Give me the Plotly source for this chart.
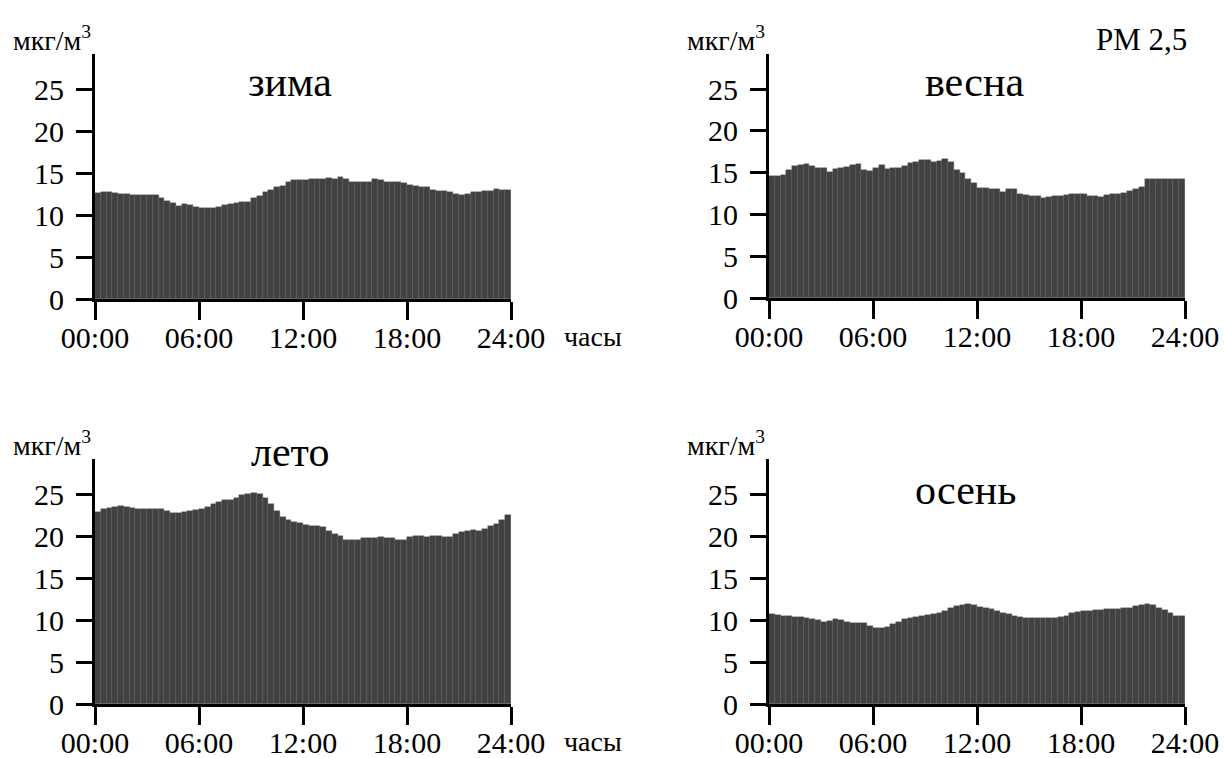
import numpy as np
import plotly.graph_objects as go

# 20-minute intervals over 24 hours
hours = np.arange(72) / 3.0
tick_vals = [0, 6, 12, 18, 24]
tick_text = ["00:00", "06:00", "12:00", "18:00", "24:00"]
y_ticks = [0, 5, 10, 15, 20, 25]

zima = [12.6, 12.7, 12.8, 12.6, 12.5, 12.5, 12.4, 12.4, 12.4, 12.4, 12.4, 12.0,
        11.7, 11.4, 11.1, 11.3, 11.2, 11.0, 10.9, 10.8, 10.8, 11.0, 11.2, 11.3,
        11.5, 11.6, 11.6, 12.0, 12.3, 12.7, 13.0, 13.3, 13.5, 14.0, 14.2, 14.2,
        14.2, 14.3, 14.3, 14.3, 14.4, 14.3, 14.5, 14.3, 14.0, 13.9, 13.9, 14.0,
        14.3, 14.2, 14.0, 13.9, 13.9, 13.8, 13.6, 13.5, 13.4, 13.3, 13.0, 12.9,
        12.9, 12.8, 12.5, 12.4, 12.5, 12.8, 12.8, 12.9, 12.9, 13.1, 13.0, 13.0]

vesna = [14.6, 14.6, 14.7, 15.3, 15.8, 15.9, 16.0, 15.8, 15.5, 15.6, 15.1, 15.4,
         15.6, 15.7, 15.9, 16.0, 15.3, 15.2, 15.5, 15.9, 15.4, 15.5, 15.6, 15.8,
         16.2, 16.3, 16.5, 16.5, 16.3, 16.4, 16.6, 16.3, 15.3, 14.9, 14.3, 13.8,
         13.2, 13.2, 13.0, 13.0, 12.7, 13.0, 13.0, 12.5, 12.3, 12.2, 12.2, 12.0,
         12.1, 12.2, 12.2, 12.3, 12.4, 12.5, 12.5, 12.2, 12.2, 12.1, 12.3, 12.5,
         12.5, 12.6, 12.8, 13.0, 13.3, 14.2, 14.2, 14.2, 14.2, 14.2, 14.2, 14.2]

leto = [22.9, 23.2, 23.4, 23.5, 23.6, 23.5, 23.4, 23.3, 23.2, 23.3, 23.2, 23.3,
        23.0, 22.8, 22.8, 22.9, 23.0, 23.1, 23.3, 23.5, 23.8, 24.1, 24.3, 24.3,
        24.5, 24.9, 25.0, 25.1, 25.0, 24.6, 23.8, 23.0, 22.3, 21.9, 21.7, 21.6,
        21.3, 21.2, 21.2, 21.1, 20.6, 20.3, 20.0, 19.6, 19.5, 19.6, 19.8, 19.8,
        19.8, 19.9, 19.8, 19.8, 19.5, 19.6, 19.9, 20.0, 20.0, 19.9, 20.0, 20.0,
        19.9, 19.9, 20.3, 20.5, 20.6, 20.7, 20.6, 20.8, 21.2, 21.5, 21.9, 22.5]

osen = [10.7, 10.6, 10.5, 10.5, 10.4, 10.4, 10.3, 10.1, 10.0, 9.8, 9.9, 10.1,
        10.0, 9.8, 9.7, 9.7, 9.6, 9.3, 9.1, 9.0, 9.2, 9.5, 9.8, 10.1,
        10.2, 10.4, 10.5, 10.6, 10.7, 10.9, 11.1, 11.5, 11.7, 11.8, 11.9, 11.8,
        11.6, 11.5, 11.3, 11.1, 10.9, 10.7, 10.5, 10.4, 10.3, 10.3, 10.3, 10.3,
        10.3, 10.3, 10.4, 10.5, 10.8, 11.0, 11.1, 11.1, 11.2, 11.2, 11.3, 11.3,
        11.3, 11.4, 11.5, 11.7, 11.8, 11.9, 11.8, 11.5, 11.2, 10.8, 10.5, 10.5]

seasons = ["зима", "весна", "лето", "осень"]
series = [zima, vesna, leto, osen]

W, H = 1224, 758
FONT = "Liberation Serif"
BAR = "#414141"


def fx(px):
    return px / W


def fy(py):
    return 1 - py / H


# panel geometry in window pixels: (x0, x1, y_bottom, y_top)
panels = [
    (95, 511, 299, 54),
    (769, 1185, 298, 54),
    (95, 511, 704, 459),
    (769, 1185, 704, 459),
]
# season title centres in window pixels
title_pos = [(290, 82), (975, 82), (290, 452), (965, 490)]

fig = go.Figure()
annotations = []
for i, (name, vals) in enumerate(zip(seasons, series)):
    x0, x1, yb, yt = panels[i]
    n = "" if i == 0 else str(i + 1)
    fig.add_trace(go.Bar(
        x=hours + 1 / 6, y=vals, width=1 / 3,
        marker=dict(color=BAR, line=dict(color="#5a5a5a", width=0.4)),
        xaxis="x" + n, yaxis="y" + n, showlegend=False,
    ))
    ax = dict(
        domain=[fx(x0), fx(x1)], range=[0, 24], anchor="y" + n,
        tickvals=tick_vals, ticktext=tick_text, ticks="outside", ticklen=18,
        tickwidth=3, tickcolor="black", showline=True, linewidth=3,
        linecolor="black", showgrid=False, zeroline=False, automargin=False,
        ticklabelstandoff=-8,
        tickfont=dict(family=FONT, size=30, color="black"),
    )
    ay = dict(
        domain=[fy(yb), fy(yt)], range=[0, 29.2], anchor="x" + n,
        tickvals=y_ticks, ticks="outside", ticklen=16, tickwidth=3,
        tickcolor="black", showline=True, linewidth=3, linecolor="black",
        showgrid=False, zeroline=False, ticklabelstandoff=6, automargin=False,
        tickfont=dict(family=FONT, size=30, color="black"),
    )
    fig.update_layout(**{"xaxis" + n: ax, "yaxis" + n: ay})

    tx, ty = title_pos[i]
    annotations.append(dict(
        text=name, x=fx(tx), y=fy(ty),
        xref="paper", yref="paper", showarrow=False,
        font=dict(family=FONT, size=42, color="black"),
        xanchor="center", yanchor="middle",
    ))
    # unit label
    annotations.append(dict(
        text="мкг/м<sup>3</sup>", x=fx(x0 - 84), y=fy(yt - 16),
        xref="paper", yref="paper", showarrow=False,
        font=dict(family=FONT, size=28, color="black"),
        xanchor="left", yanchor="middle",
    ))

# hours label for left panels
for yb in (299, 704):
    annotations.append(dict(
        text="часы", x=fx(593), y=fy(yb + 37), xref="paper", yref="paper",
        showarrow=False, font=dict(family=FONT, size=28, color="black"),
        xanchor="center", yanchor="middle",
    ))

annotations.append(dict(
    text="PM 2,5", x=fx(1141), y=fy(40), xref="paper", yref="paper",
    showarrow=False, font=dict(family=FONT, size=31, color="black"),
    xanchor="center", yanchor="middle",
))

fig.update_layout(
    width=W, height=H, margin=dict(l=0, r=0, t=0, b=0, autoexpand=False),
    paper_bgcolor="white", plot_bgcolor="white", bargap=0,
    annotations=annotations,
)

# remove the default page margin so the figure fills the window exactly
fig.write_html(
    "out.html",
    config={"displayModeBar": False},
    post_script="document.body.style.margin='0';document.body.style.overflow='hidden';",
)
